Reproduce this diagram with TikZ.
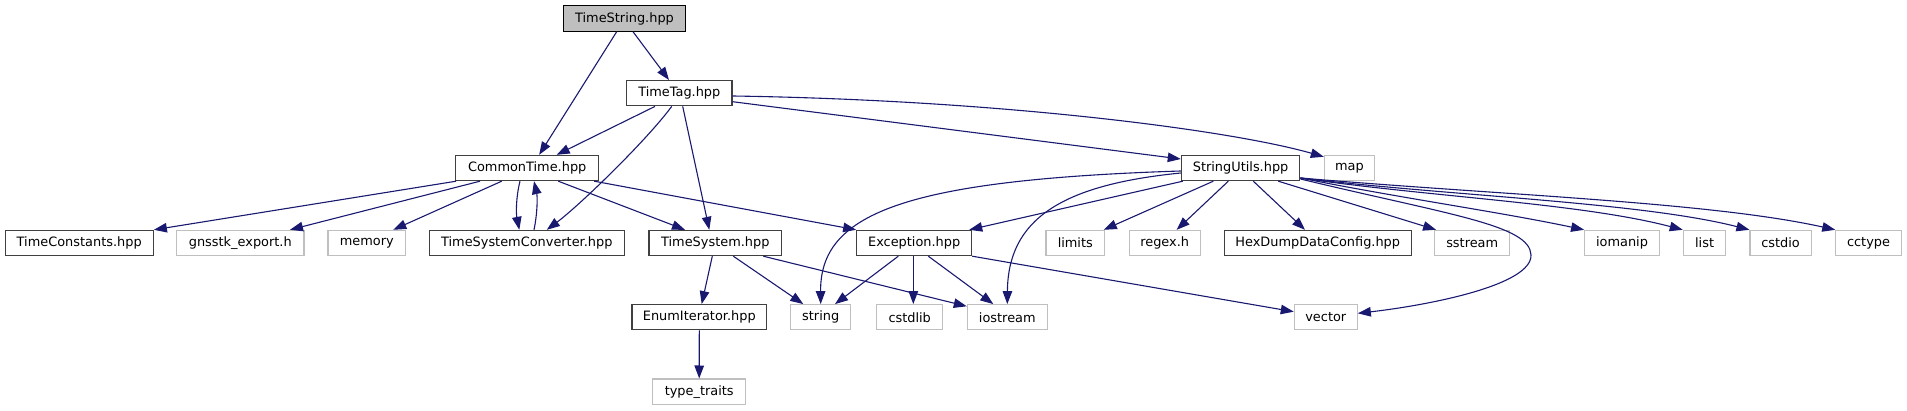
\documentclass[tikz,border=0pt]{standalone}
\usepackage{fontspec}
\setmainfont{DejaVu Sans}
\usetikzlibrary{arrows.meta}
\definecolor{edgec}{HTML}{191970}
\definecolor{docb}{HTML}{404040}
\definecolor{extb}{HTML}{BFBFBF}
\begin{document}
\begin{tikzpicture}[x=1pt,y=-1pt,
 box/.style={draw=docb, line width=1.1pt, minimum height=25.3pt, inner sep=0pt, font=\fontsize{12.9}{15}\selectfont, text=black, anchor=center},
 ext/.style={box, draw=extb},
 root/.style={box, draw=black, fill=extb},
 dep/.style={draw=edgec, line width=1.1pt, -{Triangle[length=13pt,width=9.5pt]}}]
\useasboundingbox (0,0) rectangle (1907,411);
% row 0
\node[root, minimum width=122.4pt] (ts) at (624.5,18.5) {TimeString.hpp};
% row 1
\node[box, minimum width=105.3pt] (tt) at (679.3,93.2) {TimeTag.hpp};
% row 2
\node[box, minimum width=143pt] (ct) at (527.2,168) {CommonTime.hpp};
\node[box, minimum width=118.6pt] (su) at (1240.6,168) {StringUtils.hpp};
\node[ext, minimum width=50.3pt] (map) at (1349.5,168) {map};
% row 3
\node[box, minimum width=148.3pt] (tc) at (79.2,243) {TimeConstants.hpp};
\node[ext, minimum width=127.3pt] (gx) at (240.3,243) {gnsstk\_export.h};
\node[ext, minimum width=77.7pt] (mem) at (366.8,243) {memory};
\node[box, minimum width=195pt] (tsc) at (526.8,243) {TimeSystemConverter.hpp};
\node[box, minimum width=132.7pt] (tsy) at (715.3,243) {TimeSystem.hpp};
\node[box, minimum width=115pt] (ex) at (914.2,243) {Exception.hpp};
\node[ext, minimum width=58.7pt] (lim) at (1075.3,243) {limits};
\node[ext, minimum width=70.7pt] (rx) at (1164.7,243) {regex.h};
\node[box, minimum width=186.8pt] (hd) at (1317.7,243) {HexDumpDataConfig.hpp};
\node[ext, minimum width=75.1pt] (ss) at (1472.2,243) {sstream};
\node[ext, minimum width=74.7pt] (iom) at (1622,243) {iomanip};
\node[ext, minimum width=42.6pt] (lst) at (1704.6,243) {list};
\node[ext, minimum width=61.1pt] (cio) at (1780.5,243) {cstdio};
\node[ext, minimum width=65.4pt] (cct) at (1868.5,243) {cctype};
% row 4
\node[box, minimum width=134.7pt] (ei) at (699.3,317.3) {EnumIterator.hpp};
\node[ext, minimum width=60pt] (str) at (820.7,317.3) {string};
\node[ext, minimum width=66pt] (csl) at (909.7,317.3) {cstdlib};
\node[ext, minimum width=80pt] (ios) at (1007.3,317.3) {iostream};
\node[ext, minimum width=63pt] (vec) at (1325.8,317.3) {vector};
% row 5
\node[ext, minimum width=93pt] (tr) at (699.2,391.7) {type\_traits};

% TimeString
\draw[dep] ([xshift=-7.8pt]ts.south) -- ([xshift=12pt]ct.north);
\draw[dep] ([xshift=8.5pt]ts.south) -- ([xshift=-10.3pt]tt.north);
% TimeTag
\draw[dep] ([xshift=-24.3pt]tt.south) -- ([xshift=29.5pt]ct.north);
\draw[dep] ([xshift=-7.6pt]tt.south) .. controls (647,140) and (580,205) .. ([xshift=20pt]tsc.north);
\draw[dep] ([xshift=3.4pt]tt.south) -- ([xshift=-6pt]tsy.north);
\draw[dep] ([yshift=-8.5pt]tt.east) -- ([yshift=9pt]su.west);
\draw[dep] ([yshift=-2.8pt]tt.east) .. controls (1000,100) and (1230,130) .. ([yshift=-2pt]map.north west);
% CommonTime
\draw[dep] ([xshift=1pt]ct.south west) -- (tc.north east);
\draw[dep] ([xshift=-47.2pt]ct.south) -- ([xshift=49.7pt]gx.north);
\draw[dep] ([xshift=-25.5pt]ct.south) -- ([xshift=26.5pt]mem.north);
\draw[dep] ([xshift=-7.2pt]ct.south) .. controls (516,197) and (516,213) .. ([xshift=-7.5pt]tsc.north);
\draw[dep] ([xshift=7.2pt]tsc.north) .. controls (537.5,213) and (537.5,197) .. ([xshift=6.8pt]ct.south);
\draw[dep] ([xshift=31.1pt]ct.south) -- ([xshift=-30.3pt]tsy.north);
\draw[dep] ([xshift=-5pt]ct.south east) -- (ex.north west);
% StringUtils
\draw[dep] ([yshift=-3pt]su.west) .. controls (900,180) and (820,215) .. (str.north);
\draw[dep] ([yshift=-5pt]su.west) .. controls (1060,185) and (1008,220) .. (ios.north);
\draw[dep] ([xshift=2pt]su.south west) -- ([xshift=-3pt]ex.north east);
\draw[dep] ([xshift=-27.3pt]su.south) -- ([xshift=-1.4pt]lim.north east);
\draw[dep] ([xshift=-12.3pt]su.south) -- ([xshift=12pt]rx.north);
\draw[dep] ([xshift=12.7pt]su.south) -- ([xshift=-12.7pt]hd.north);
\draw[dep] ([xshift=37.7pt]su.south) -- ([xshift=2pt]ss.north west);
\draw[dep] ([yshift=-10pt]su.east) .. controls (1400,198) and (1500,212) .. (iom.north west);
\draw[dep] ([yshift=-10pt]su.east) .. controls (1430,197) and (1580,203) .. (lst.north west);
\draw[dep] ([yshift=-10pt]su.east) .. controls (1450,196) and (1640,202) .. (cio.north west);
\draw[dep] ([yshift=-10pt]su.east) .. controls (1500,195) and (1710,202) .. (cct.north west);
\draw[dep] ([yshift=-11pt]su.east) .. controls (1450,215) and (1530,225) .. (1531,255) .. controls (1532,285) and (1430,305) .. ([yshift=4pt]vec.east);
% Exception
\draw[dep] ([xshift=-15.9pt]ex.south) -- ([xshift=14.3pt]str.north);
\draw[dep] ([xshift=-0.9pt]ex.south) -- ([xshift=3.6pt]csl.north);
\draw[dep] ([xshift=14.1pt]ex.south) -- ([xshift=-14pt]ios.north);
\draw[dep] (ex.south east) -- ([yshift=5.6pt]vec.west);
% TimeSystem
\draw[dep] ([xshift=-3pt]tsy.south) -- ([xshift=2.4pt]ei.north);
\draw[dep] ([xshift=18pt]tsy.south) -- ([xshift=-17.4pt]str.north);
\draw[dep] ([xshift=48pt]tsy.south) -- ([yshift=11pt]ios.west);
% EnumIterator
\draw[dep] (ei.south) -- (tr.north);
\end{tikzpicture}
\end{document}
